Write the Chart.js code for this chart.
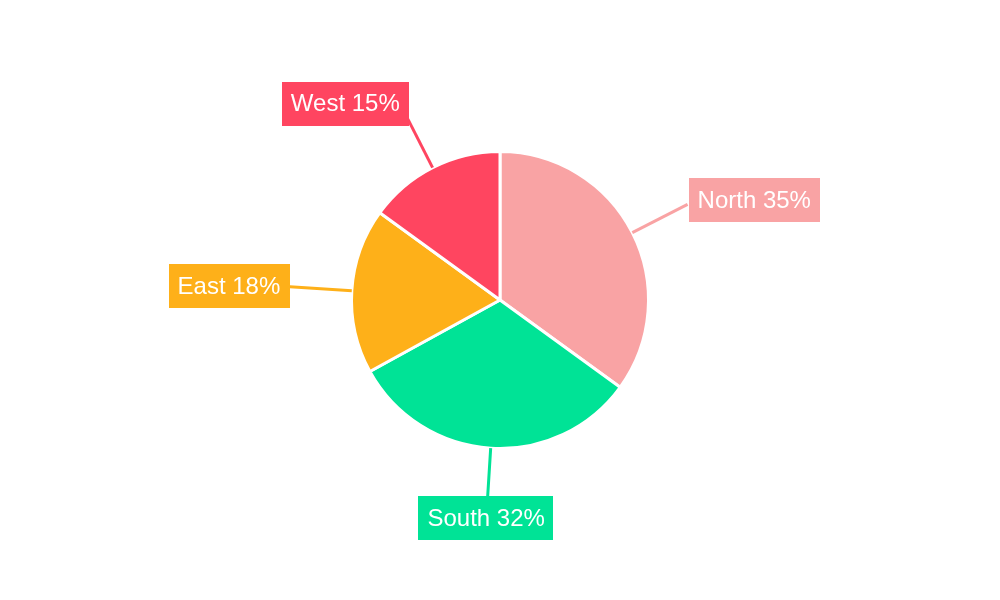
<!DOCTYPE html>
<html>
<head>
<meta charset="utf-8">
<script src="https://cdn.jsdelivr.net/npm/chart.js@4.4.1/dist/chart.umd.min.js"></script>
<style>
  body { margin: 0; background: #fff; }
  #wrap { width: 1000px; height: 600px; }
</style>
</head>
<body>
<div id="wrap"><canvas id="pie"></canvas></div>
<script>
const regions = ['North', 'South', 'East', 'West'];
const shares = [35, 32, 18, 15];
const colors = ['#f9a3a4', '#00e396', '#feb019', '#ff4560'];

// labels in coloured boxes, joined to each slice by a short leader line
const calloutLabels = {
  id: 'calloutLabels',
  afterDatasetsDraw(chart) {
    const c = chart.ctx;
    const meta = chart.getDatasetMeta(0);
    c.save();
    c.font = '24px "Liberation Sans", Arial, sans-serif';
    c.textBaseline = 'middle';
    c.textAlign = 'center';
    meta.data.forEach((arc, i) => {
      const mid = (arc.startAngle + arc.endAngle) / 2;
      const ux = Math.cos(mid), uy = Math.sin(mid);
      const r = arc.outerRadius;
      const x0 = arc.x + ux * r, y0 = arc.y + uy * r;
      const x1 = arc.x + ux * (r + 62), y1 = arc.y + uy * (r + 62);
      c.strokeStyle = colors[i];
      c.lineWidth = 3;
      c.beginPath();
      c.moveTo(x0, y0);
      c.lineTo(x1, y1);
      c.stroke();

      const text = regions[i] + ' ' + shares[i] + '%';
      const w = c.measureText(text).width + 18;
      const h = 44;
      let cx, cy;
      if (Math.abs(uy) > 0.95) {
        cx = x1 + ux * 10;
        cy = y1 + uy * 8;
      } else {
        cx = x1 + Math.sign(ux) * (w / 2 + 1) + (ux < 0 ? -uy * 6 : 0);
        cy = y1 + uy * 10;
      }
      c.fillStyle = colors[i];
      c.fillRect(Math.round(cx - w / 2), Math.round(cy - h / 2), Math.round(w), h);
      c.fillStyle = '#ffffff';
      c.fillText(text, cx, cy + 1);
    });
    c.restore();
  }
};

new Chart(document.getElementById('pie'), {
  type: 'pie',
  data: {
    labels: regions,
    datasets: [{
      data: shares,
      backgroundColor: colors,
      borderColor: '#ffffff',
      borderWidth: 3
    }]
  },
  options: {
    responsive: true,
    maintainAspectRatio: false,
    animation: false,
    layout: { padding: { top: 150, bottom: 150, left: 200, right: 200 } },
    plugins: {
      legend: { display: false },
      tooltip: { enabled: false }
    }
  },
  plugins: [calloutLabels]
});
</script>
</body>
</html>
